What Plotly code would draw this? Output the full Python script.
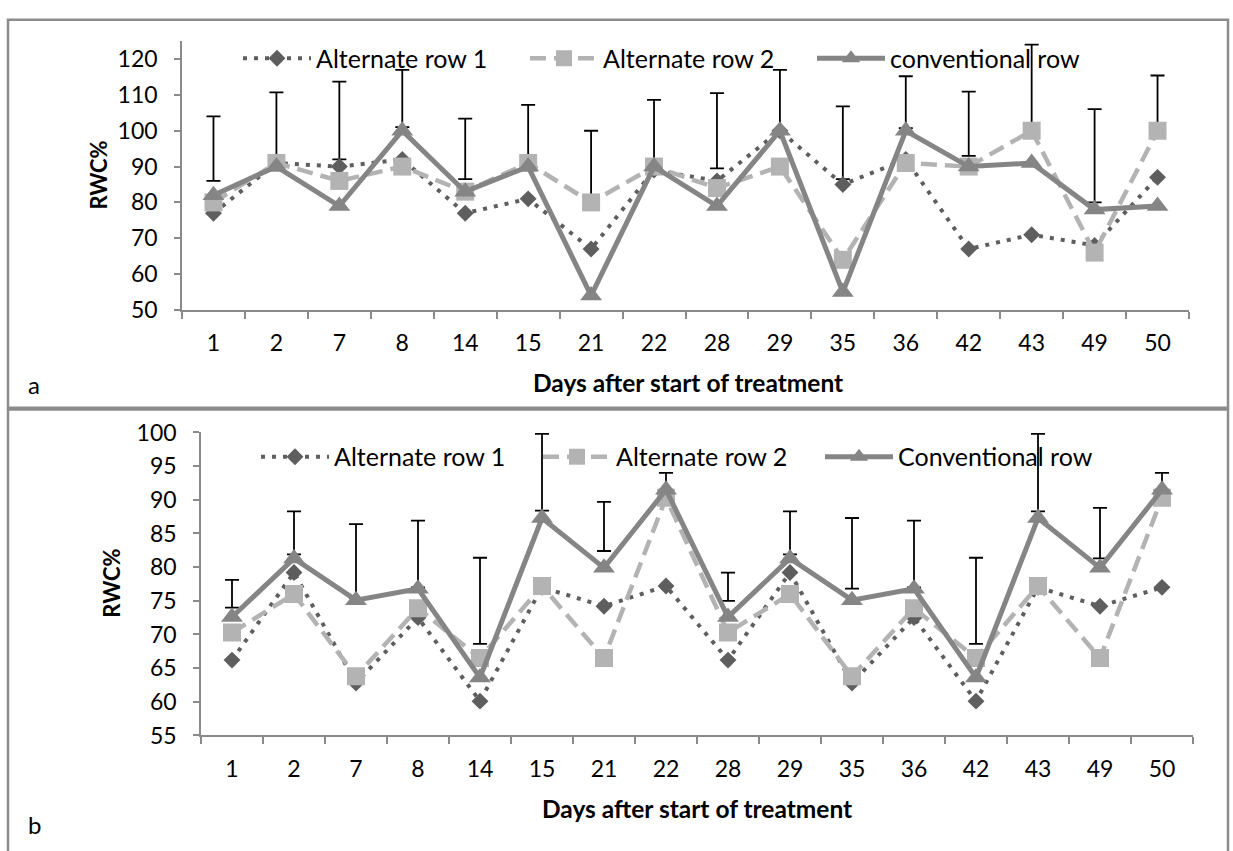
import plotly.graph_objects as go

W, H = 1233, 851

days = ["1", "2", "7", "8", "14", "15", "21", "22", "28", "29", "35", "36", "42", "43", "49", "50"]

# Panel a
a_alt1 = [77, 91, 90, 92, 77, 81, 67, 89, 86, 100, 85, 92, 67, 71, 68, 87]
a_alt2 = [80, 91, 86, 90, 83, 91, 80, 90, 84, 90, 64, 91, 90, 100, 66, 100]
a_conv = [82, 90, 79, 100, 83, 90, 54, 90, 79, 100, 55, 100, 90, 91, 78, 79]
a_err_lo = [86, 91, 92, 101, 86.5, 91, 80, 90, 89.5, 100, 86.5, 100.7, 93, 100, 80, 100]
a_err_hi = [104, 110.7, 113.7, 117, 103.4, 107.2, 100, 108.6, 110.5, 117, 106.8, 115.2, 110.9, 124, 106, 115.4]

# Panel b
b_alt1 = [66.2, 79.2, 62.8, 72.5, 60.1, 77.0, 74.2, 77.2, 66.2, 79.2, 62.8, 72.5, 60.1, 77.0, 74.2, 77.0]
b_alt2 = [70.3, 76.0, 63.8, 73.9, 66.5, 77.2, 66.5, 90.3, 70.3, 76.0, 63.8, 73.9, 66.5, 77.2, 66.5, 90.3]
b_conv = [72.6, 81.3, 75.1, 76.8, 63.6, 87.3, 79.9, 91.5, 72.6, 81.3, 75.1, 76.8, 63.6, 87.3, 79.9, 91.5]
b_err_lo = [74.0, 81.9, 75.4, 77.0, 68.6, 88.4, 82.4, 91.5, 75.0, 81.9, 76.8, 77.0, 68.6, 88.3, 81.3, 91.5]
b_err_hi = [78.1, 88.3, 86.4, 86.9, 81.4, 99.8, 89.7, 94.0, 79.2, 88.3, 87.3, 86.9, 81.4, 99.8, 88.8, 94.0]

names_a = ["Alternate row 1", "Alternate row 2", "conventional row"]
names_b = ["Alternate row 1", "Alternate row 2", "Conventional row"]

FONT = "Lato, 'Open Sans', sans-serif"
C_ALT1 = "#5e5e5e"
C_ALT2 = "#b3b3b3"
C_CONV = "#858585"
AXC = "#8a8a8a"


def px(x):
    return x / W


def py(y):
    return 1 - y / H


fig = go.Figure()


def add_panel(xa, ya, legend, alt1, alt2, conv, lo, hi, names):
    fig.add_trace(go.Scatter(
        x=days, y=lo, xaxis=xa, yaxis=ya, mode="markers",
        marker=dict(opacity=0, size=1), showlegend=False, hoverinfo="skip",
        error_y=dict(type="data", symmetric=False,
                     array=[h - l for h, l in zip(hi, lo)],
                     arrayminus=[0] * len(lo),
                     color="black", thickness=1.8, width=7),
    ))
    fig.add_trace(go.Scatter(
        x=days, y=alt1, xaxis=xa, yaxis=ya, name=names[0], legend=legend,
        mode="lines+markers",
        line=dict(color=C_ALT1, width=4, dash="4px,7px"),
        marker=dict(symbol="diamond", size=13, color=C_ALT1),
    ))
    fig.add_trace(go.Scatter(
        x=days, y=alt2, xaxis=xa, yaxis=ya, name=names[1], legend=legend,
        mode="lines+markers",
        line=dict(color=C_ALT2, width=4.5, dash="16px,8px"),
        marker=dict(symbol="square", size=18, color=C_ALT2),
    ))
    fig.add_trace(go.Scatter(
        x=days, y=conv, xaxis=xa, yaxis=ya, name=names[2], legend=legend,
        mode="lines+markers",
        line=dict(color=C_CONV, width=5),
        marker=dict(symbol="triangle-up", size=19, color=C_CONV),
    ))


add_panel("x", "y", "legend", a_alt1, a_alt2, a_conv, a_err_lo, a_err_hi, names_a)
add_panel("x2", "y2", "legend2", b_alt1, b_alt2, b_conv, b_err_lo, b_err_hi, names_b)

xcommon = dict(type="category", categoryorder="array", categoryarray=days,
               range=[-0.5, 15.5], tickson="boundaries", ticks="outside",
               ticklen=7, tickcolor=AXC, tickwidth=1.5, showline=True,
               linecolor=AXC, linewidth=1.5, showgrid=False, zeroline=False,
               tickfont=dict(family=FONT, size=23, color="black"),
               ticklabelstandoff=12)
ycommon = dict(ticks="outside", ticklen=6, tickcolor=AXC, tickwidth=1.5,
               showline=True, linecolor=AXC, linewidth=1.5, showgrid=False,
               zeroline=False, tickfont=dict(family=FONT, size=23, color="black"),
               ticklabelstandoff=12)

legcommon = dict(orientation="h", xanchor="left", yanchor="middle",
                 font=dict(family=FONT, size=25, color="black"),
                 bgcolor="rgba(0,0,0,0)", itemwidth=68,
                 entrywidthmode="pixels",
                 itemclick=False, itemdoubleclick=False)

fig.update_layout(
    width=W, height=H, autosize=False,
    margin=dict(l=0, r=0, t=0, b=0),
    paper_bgcolor="white", plot_bgcolor="white",
    font=dict(family=FONT, color="black"),
    xaxis=dict(domain=[px(182), px(1189)], anchor="y", **xcommon),
    yaxis=dict(domain=[py(305), py(27)], anchor="x", range=[50, 125],
               tick0=50, dtick=10, **ycommon),
    xaxis2=dict(domain=[px(201), px(1193)], anchor="y2", **xcommon),
    yaxis2=dict(domain=[py(745), py(431.7)], anchor="x2", range=[55, 100],
                tick0=55, dtick=5, **ycommon),
    legend=dict(x=px(238), y=py(45), entrywidth=204, **legcommon),
    legend2=dict(x=px(256), y=py(457), entrywidth=199, **legcommon),
    showlegend=True,
)

ann = []
boldx = dict(family=FONT, size=24.5, color="black")
boldy = dict(family=FONT, size=22, color="black")
reg = dict(family=FONT, size=24, color="black")
ann.append(dict(text="<b>RWC%</b>", x=px(99), y=py(166), textangle=-90, font=boldy))
ann.append(dict(text="<b>RWC%</b>", x=px(112), y=py(588), textangle=-90, font=boldy))
ann.append(dict(text="<b>Days after start of treatment</b>", x=px(688), y=py(380), font=boldx))
ann.append(dict(text="<b>Days after start of treatment</b>", x=px(697), y=py(820), font=boldx))
ann.append(dict(text="a", x=px(34), y=py(382), font=reg))
ann.append(dict(text="b", x=px(34), y=py(837), font=reg))
for a in ann:
    a.update(xref="paper", yref="paper", showarrow=False, xanchor="center", yanchor="middle")
fig.update_layout(annotations=ann)

fig.update_layout(shapes=[
    dict(type="rect", xref="paper", yref="paper", x0=px(8), x1=px(1228), y0=py(406), y1=py(5),
         line=dict(color="#8c8c8c", width=2.5), fillcolor="rgba(0,0,0,0)", layer="below"),
    dict(type="rect", xref="paper", yref="paper", x0=px(8), x1=px(1228), y0=py(870), y1=py(408),
         line=dict(color="#8c8c8c", width=2.5), fillcolor="rgba(0,0,0,0)", layer="below"),
])

fig.write_html("out.html")
